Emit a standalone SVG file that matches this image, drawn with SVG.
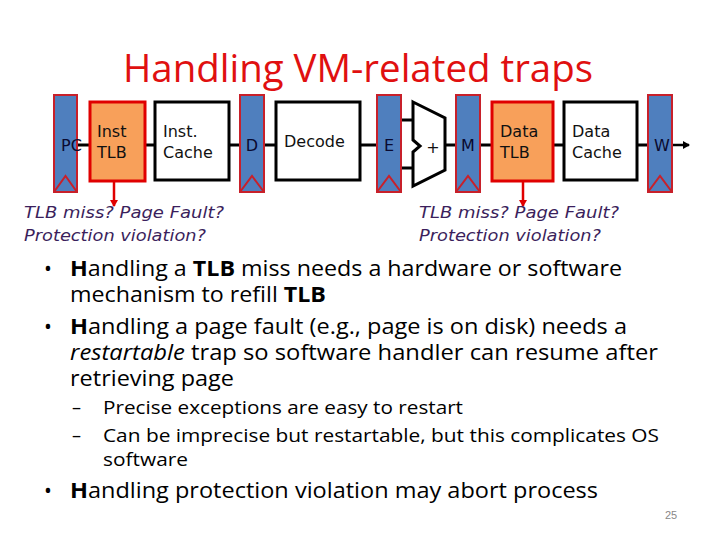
<svg xmlns="http://www.w3.org/2000/svg" width="720" height="540" viewBox="0 0 720 540">
<style>
.reg{fill:#4F7FBE;stroke:#C8202A;stroke-width:2}
.notch{fill:none;stroke:#C8202A;stroke-width:2}
.tlb{fill:#F8A05A;stroke:#E00000;stroke-width:3}
.box{fill:#FFFFFF;stroke:#000000;stroke-width:3}
.lbl{font-family:"DejaVu Sans",Verdana,sans-serif;font-size:16px;fill:#111111}
.rlbl{font-family:"DejaVu Sans",Verdana,sans-serif;font-size:16px;fill:#0A0A30}
.wire{stroke:#000000;stroke-width:3;fill:none}
.redw{stroke:#E00000;stroke-width:2.5;fill:none}
.note{font-family:"DejaVu Sans",Verdana,sans-serif;font-style:italic;font-size:15px;fill:#3B1F5C}
.title{font-family:"Open Sans","Liberation Sans",sans-serif;font-size:38px;fill:#E01010}
.b1{font-family:"Open Sans","Liberation Sans",sans-serif;font-size:21px;fill:#000000}
.b2{font-family:"Open Sans","Liberation Sans",sans-serif;font-size:18px;fill:#000000}
.pg{font-family:"Liberation Sans",sans-serif;font-size:11px;fill:#888888}
</style>
<defs>
<marker id="ah" markerWidth="8" markerHeight="8" refX="6" refY="4" orient="auto" markerUnits="userSpaceOnUse">
<path d="M0,0 L7,4 L0,8 Z" fill="#000000"/>
</marker>
<marker id="ahr" markerWidth="8" markerHeight="8" refX="6" refY="4" orient="auto" markerUnits="userSpaceOnUse">
<path d="M0,0 L7,4 L0,8 Z" fill="#E00000"/>
</marker>
</defs>
<rect width="720" height="540" fill="#FFFFFF"/>
<text class="title" x="358" y="82" text-anchor="middle" textLength="470" lengthAdjust="spacingAndGlyphs">Handling VM-related traps</text>

<g id="connectors">
<line class="wire" x1="77" y1="145" x2="89" y2="145"/>
<line class="wire" x1="145" y1="145" x2="155" y2="145"/>
<line class="wire" x1="229" y1="145" x2="239" y2="145"/>
<line class="wire" x1="264" y1="145" x2="276" y2="145"/>
<line class="wire" x1="360" y1="145" x2="377" y2="145"/>
<line class="wire" x1="401" y1="120" x2="413" y2="120"/>
<line class="wire" x1="401" y1="168" x2="413" y2="168"/>
<line class="wire" x1="445" y1="145" x2="456" y2="145"/>
<line class="wire" x1="480" y1="145" x2="492" y2="145"/>
<line class="wire" x1="553" y1="145" x2="564" y2="145"/>
<line class="wire" x1="637" y1="145" x2="648" y2="145"/>
<line x1="672" y1="145" x2="689" y2="145" stroke="#000000" stroke-width="2.5" marker-end="url(#ah)"/>
<line class="redw" x1="114" y1="182" x2="114" y2="206" marker-end="url(#ahr)"/>
<line class="redw" x1="523" y1="182" x2="523" y2="206" marker-end="url(#ahr)"/>
</g>

<g id="pc">
<rect class="reg" x="54" y="95" width="23" height="97"/>
<polyline class="notch" points="54,192 65.5,176 77,192"/>
<text class="rlbl" x="61" y="151">PC</text>
</g>
<g id="inst-tlb">
<rect class="tlb" x="90" y="102" width="55" height="79"/>
<text class="lbl" x="97" y="137">Inst</text>
<text class="lbl" x="97" y="158">TLB</text>
</g>
<g id="inst-cache">
<rect class="box" x="155" y="102" width="74" height="78"/>
<text class="lbl" x="163" y="137">Inst.</text>
<text class="lbl" x="163" y="158">Cache</text>
</g>
<g id="d">
<rect class="reg" x="240" y="95" width="24" height="97"/>
<polyline class="notch" points="240,192 252,176 264,192"/>
<text class="rlbl" x="252" y="151" text-anchor="middle">D</text>
</g>
<g id="decode">
<rect class="box" x="276" y="102" width="84" height="78"/>
<text class="lbl" x="284" y="147">Decode</text>
</g>
<g id="e">
<rect class="reg" x="377" y="95" width="24" height="97"/>
<polyline class="notch" points="377,192 389,176 401,192"/>
<text class="rlbl" x="389" y="151" text-anchor="middle">E</text>
</g>
<g id="alu">
<polygon points="413,102 445,118 445,170 413,186 413,152 420,146 413,140" fill="#FFFFFF" stroke="#000000" stroke-width="3" stroke-linejoin="miter"/>
<text class="lbl" x="433" y="153" text-anchor="middle">+</text>
</g>
<g id="m">
<rect class="reg" x="456" y="95" width="24" height="97"/>
<polyline class="notch" points="456,192 468,176 480,192"/>
<text class="rlbl" x="468" y="151" text-anchor="middle">M</text>
</g>
<g id="data-tlb">
<rect class="tlb" x="492" y="102" width="61" height="79"/>
<text class="lbl" x="500" y="137">Data</text>
<text class="lbl" x="500" y="158">TLB</text>
</g>
<g id="data-cache">
<rect class="box" x="564" y="102" width="73" height="78"/>
<text class="lbl" x="572" y="137">Data</text>
<text class="lbl" x="572" y="158">Cache</text>
</g>
<g id="w">
<rect class="reg" x="648" y="95" width="24" height="97"/>
<polyline class="notch" points="648,192 660,176 672,192"/>
<text class="rlbl" x="662" y="151" text-anchor="middle">W</text>
</g>

<g id="notes">
<text class="note" x="24" y="218" textLength="200" lengthAdjust="spacingAndGlyphs">TLB miss? Page Fault?</text>
<text class="note" x="24" y="241" textLength="182" lengthAdjust="spacingAndGlyphs">Protection violation?</text>
<text class="note" x="419" y="218" textLength="200" lengthAdjust="spacingAndGlyphs">TLB miss? Page Fault?</text>
<text class="note" x="419" y="241" textLength="182" lengthAdjust="spacingAndGlyphs">Protection violation?</text>
</g>

<g id="bullets">
<text class="b1" x="44" y="276">•</text>
<text class="b1" x="70" y="276" textLength="552" lengthAdjust="spacingAndGlyphs"><tspan font-weight="bold">H</tspan>andling a <tspan font-weight="bold">TLB</tspan> miss needs a hardware or software</text>
<text class="b1" x="70" y="302" textLength="256" lengthAdjust="spacingAndGlyphs">mechanism to refill <tspan font-weight="bold">TLB</tspan></text>
<text class="b1" x="44" y="334">•</text>
<text class="b1" x="70" y="334" textLength="557" lengthAdjust="spacingAndGlyphs"><tspan font-weight="bold">H</tspan>andling a page fault (e.g., page is on disk) needs a</text>
<text class="b1" x="70" y="360" textLength="588" lengthAdjust="spacingAndGlyphs"><tspan font-style="italic">restartable</tspan> trap so software handler can resume after</text>
<text class="b1" x="70" y="386" textLength="164" lengthAdjust="spacingAndGlyphs">retrieving page</text>
<text class="b2" x="72" y="414">–</text>
<text class="b2" x="103" y="414" textLength="360" lengthAdjust="spacingAndGlyphs">Precise exceptions are easy to restart</text>
<text class="b2" x="72" y="442">–</text>
<text class="b2" x="103" y="442" textLength="556" lengthAdjust="spacingAndGlyphs">Can be imprecise but restartable, but this complicates OS</text>
<text class="b2" x="103" y="466" textLength="85" lengthAdjust="spacingAndGlyphs">software</text>
<text class="b1" x="44" y="498">•</text>
<text class="b1" x="70" y="498" textLength="528" lengthAdjust="spacingAndGlyphs"><tspan font-weight="bold">H</tspan>andling protection violation may abort process</text>
<text class="pg" x="665" y="519">25</text>
</g>
</svg>
